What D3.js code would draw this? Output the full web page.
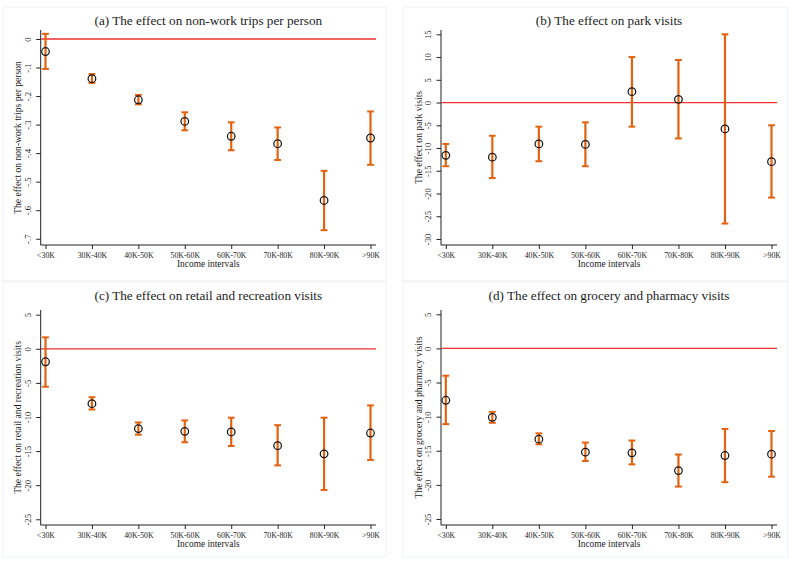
<!DOCTYPE html>
<html>
<head>
<meta charset="utf-8">
<script src="https://cdn.jsdelivr.net/npm/d3@7"></script>
<style>
  html, body { margin: 0; padding: 0; background: #ffffff; }
  svg { display: block; }
  text { font-family: "Liberation Serif", "DejaVu Serif", serif; fill: #1c1c1c; }
</style>
</head>
<body>
<svg id="chart" width="789" height="563"></svg>
<script>
// ---------------- DATA ----------------
const categories = ["<30K", "30K-40K", "40K-50K", "50K-60K", "60K-70K", "70K-80K", "80K-90K", ">90K"];

const titleA = "(a) The effect on non-work trips per person";
const ylabA = "The effect on non-work trips per person";
const estA = [-0.044, -0.139, -0.213, -0.289, -0.341, -0.367, -0.566, -0.347];
const lowA = [-0.105, -0.154, -0.229, -0.320, -0.390, -0.424, -0.670, -0.441];
const highA = [0.018, -0.123, -0.196, -0.257, -0.292, -0.310, -0.462, -0.254];
const ticksA = [0, -0.1, -0.2, -0.3, -0.4, -0.5, -0.6, -0.7];
const tickLabelsA = ["0", "-.1", "-.2", "-.3", "-.4", "-.5", "-.6", "-.7"];

const titleB = "(b) The effect on park visits";
const ylabB = "The effect on park visits";
const estB = [-11.6, -12.0, -9.1, -9.2, 2.4, 0.7, -5.8, -13.0];
const lowB = [-14.0, -16.6, -12.9, -14.0, -5.3, -7.9, -26.6, -20.9];
const highB = [-9.1, -7.3, -5.3, -4.35, 10.0, 9.35, 15.0, -5.0];
const ticksB = [15, 10, 5, 0, -5, -10, -15, -20, -25, -30];
const tickLabelsB = ["15", "10", "5", "0", "-5", "-10", "-15", "-20", "-25", "-30"];

const titleC = "(c) The effect on retail and recreation visits";
const ylabC = "The effect on retail and recreation visits";
const estC = [-1.9, -8.05, -11.7, -12.1, -12.2, -14.2, -15.4, -12.35];
const lowC = [-5.56, -8.9, -12.6, -13.7, -14.25, -17.1, -20.7, -16.3];
const highC = [1.68, -7.1, -10.8, -10.5, -10.1, -11.2, -10.1, -8.3];
const ticksC = [5, 0, -5, -10, -15, -20, -25];
const tickLabelsC = ["5", "0", "-5", "-10", "-15", "-20", "-25"];

const titleD = "(d) The effect on grocery and pharmacy visits";
const ylabD = "The effect on grocery and pharmacy visits";
const estD = [-7.6, -10.1, -13.3, -15.2, -15.3, -17.9, -15.7, -15.5];
const lowD = [-11.1, -10.9, -14.05, -16.5, -17.0, -20.25, -19.6, -18.8];
const highD = [-4.0, -9.3, -12.45, -13.8, -13.5, -15.55, -11.8, -12.1];
const ticksD = [5, 0, -5, -10, -15, -20, -25];
const tickLabelsD = ["5", "0", "-5", "-10", "-15", "-20", "-25"];

const xAxisTitle = "Income intervals";

// ---------------- LAYOUT ----------------
const panels = [
  { title: titleA, ylab: ylabA, est: estA, low: lowA, high: highA, ticks: ticksA, tickLabels: tickLabelsA,
    frame: [3, 7, 386, 281], axisX: 40.7, right: 376, top: 30, bottom: 245, domain: [-0.722, 0.0315] },
  { title: titleB, ylab: ylabB, est: estB, low: lowB, high: highB, ticks: ticksB, tickLabels: tickLabelsB,
    frame: [403, 7, 788, 281], axisX: 441, right: 777, top: 30, bottom: 245, domain: [-31.32, 15.95] },
  { title: titleC, ylab: ylabC, est: estC, low: lowC, high: highC, ticks: ticksC, tickLabels: tickLabelsC,
    frame: [3, 282, 386, 557], axisX: 40.7, right: 376, top: 310, bottom: 525, domain: [-25.84, 5.69] },
  { title: titleD, ylab: ylabD, est: estD, low: lowD, high: highD, ticks: ticksD, tickLabels: tickLabelsD,
    frame: [403, 282, 788, 557], axisX: 441, right: 777, top: 310, bottom: 525, domain: [-25.88, 5.63] }
];

const svg = d3.select("#chart");
const ORANGE = "#e4620f";
const AXIS = "#222222";

panels.forEach(p => {
  const g = svg.append("g");

  // faint panel frame
  g.append("rect")
    .attr("x", p.frame[0]).attr("y", p.frame[1])
    .attr("width", p.frame[2] - p.frame[0]).attr("height", p.frame[3] - p.frame[1])
    .attr("fill", "none").attr("stroke", "#edf2f5").attr("stroke-width", 1);

  const x = d3.scalePoint().domain(categories).range([p.axisX + 4.8, p.right - 5.5]);
  const y = d3.scaleLinear().domain(p.domain).range([p.bottom, p.top]);

  // title
  g.append("text")
    .attr("x", (p.axisX + p.right) / 2).attr("y", p.frame[1] + 17.5)
    .attr("text-anchor", "middle").attr("font-size", 13.2)
    .text(p.title);

  // y axis
  const yAxis = d3.axisLeft(y).tickValues(p.ticks).tickSize(4.5).tickPadding(0)
    .tickFormat((d, i) => p.tickLabels[i]);
  const ya = g.append("g").attr("transform", `translate(${p.axisX},0)`).call(yAxis);
  ya.select(".domain").attr("d", `M0,${p.top}V${p.bottom}`).attr("stroke", AXIS).attr("stroke-width", 1);
  ya.selectAll(".tick line").attr("stroke", AXIS).attr("stroke-width", 1);
  ya.selectAll(".tick text")
    .attr("x", 0).attr("dy", null)
    .attr("transform", "translate(-9.8,0) rotate(-90)")
    .attr("text-anchor", "middle").attr("font-size", 8.6)
    .attr("font-family", "Liberation Serif, serif").attr("fill", "#1c1c1c");

  // x axis
  const xAxis = d3.axisBottom(x).tickSize(4).tickPadding(3);
  const xa = g.append("g").attr("transform", `translate(0,${p.bottom})`).call(xAxis);
  xa.select(".domain").attr("d", `M${p.axisX},0H${p.right}`).attr("stroke", AXIS).attr("stroke-width", 1);
  xa.selectAll(".tick line").attr("stroke", AXIS).attr("stroke-width", 1);
  xa.selectAll(".tick text").attr("font-size", 7.8)
    .attr("font-family", "Liberation Serif, serif").attr("fill", "#1c1c1c");

  // axis titles
  g.append("text")
    .attr("x", (p.axisX + p.right) / 2).attr("y", p.bottom + 22)
    .attr("text-anchor", "middle").attr("font-size", 9.4)
    .text(xAxisTitle);
  g.append("text")
    .attr("transform", `translate(${p.axisX - 19.5},${(p.top + p.bottom) / 2}) rotate(-90)`)
    .attr("text-anchor", "middle").attr("font-size", 9.6)
    .text(p.ylab);

  // zero reference line
  g.append("line")
    .attr("x1", p.axisX + 0.5).attr("x2", p.right)
    .attr("y1", y(0)).attr("y2", y(0))
    .attr("stroke", "#ee3030").attr("stroke-width", 1.3);

  // error bars
  const rows = categories.map((c, i) => ({ c, est: p.est[i], low: p.low[i], high: p.high[i] }));
  const eb = g.append("g").selectAll("g").data(rows).join("g");
  eb.append("line")
    .attr("x1", d => x(d.c)).attr("x2", d => x(d.c))
    .attr("y1", d => y(d.low)).attr("y2", d => y(d.high))
    .attr("stroke", ORANGE).attr("stroke-width", 2.2);
  eb.append("line")
    .attr("x1", d => x(d.c) - 3.4).attr("x2", d => x(d.c) + 3.4)
    .attr("y1", d => y(d.low)).attr("y2", d => y(d.low))
    .attr("stroke", ORANGE).attr("stroke-width", 2);
  eb.append("line")
    .attr("x1", d => x(d.c) - 3.4).attr("x2", d => x(d.c) + 3.4)
    .attr("y1", d => y(d.high)).attr("y2", d => y(d.high))
    .attr("stroke", ORANGE).attr("stroke-width", 2);

  // point estimates
  g.append("g").selectAll("circle").data(rows).join("circle")
    .attr("cx", d => x(d.c)).attr("cy", d => y(d.est)).attr("r", 3.8)
    .attr("fill", "none").attr("stroke", "#151515").attr("stroke-width", 1.25);
});
</script>
</body>
</html>
